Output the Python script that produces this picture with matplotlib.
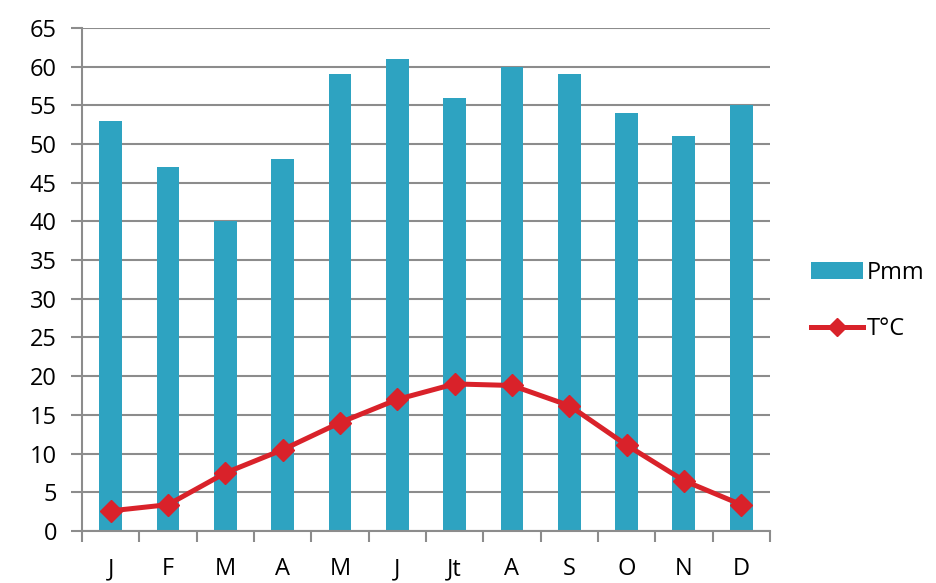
import numpy as np
import matplotlib.pyplot as plt
from matplotlib.patches import Patch
from matplotlib.lines import Line2D

months = ['J', 'F', 'M', 'A', 'M', 'J', 'Jt', 'A', 'S', 'O', 'N', 'D']
precip_mm = [53, 47, 40, 48, 59, 61, 56, 60, 59, 54, 51, 55]
temp_c = [2.6, 3.4, 7.5, 10.5, 14.0, 17.0, 19.0, 18.8, 16.2, 11.1, 6.5, 3.4]

bar_color = '#2ea3c1'
line_color = '#d9222a'
grid_color = '#8c8c8c'

plt.rcParams['font.family'] = ['Open Sans', 'DejaVu Sans']

fig = plt.figure(figsize=(9.36, 5.83), dpi=100)
ax = fig.add_axes([0.0876, 0.0892, 0.735, 0.863])

x = np.arange(len(months))
ax.bar(x, precip_mm, width=0.4, color=bar_color, zorder=2)
ax.plot(x, temp_c, color=line_color, lw=3.6, marker='D', markersize=11,
        zorder=3, solid_joinstyle='round')

ax.set_xlim(-0.5, len(months) - 0.5)
ax.set_ylim(0, 65)
ax.set_yticks(np.arange(0, 66, 5))
ax.yaxis.grid(True, color=grid_color, lw=1.5, zorder=1)
ax.set_axisbelow(True)

ax.set_xticks(x)
ax.set_xticklabels(months)
ax.set_xticks(np.arange(-0.5, len(months)), minor=True)
ax.tick_params(axis='x', which='major', length=0, pad=19, labelsize=17)
ax.tick_params(axis='x', which='minor', length=8, width=1.5, color=grid_color,
               direction='out')
ax.tick_params(axis='y', length=8, width=1.5, color=grid_color, pad=10,
               labelsize=17)

for side in ['top', 'right']:
    ax.spines[side].set_visible(False)
for side in ['left', 'bottom']:
    ax.spines[side].set_color(grid_color)
    ax.spines[side].set_linewidth(1.5)

handles = [
    Patch(facecolor=bar_color, edgecolor='none', label='Pmm'),
    Line2D([0], [0], color=line_color, lw=3.6, marker='D', markersize=9,
           label='T°C'),
]
fig.legend(handles=handles, loc='center left', bbox_to_anchor=(0.866, 0.484),
           frameon=False, fontsize=17, handlelength=2.2, handletextpad=0.2,
           labelspacing=1.35, borderpad=0, borderaxespad=0)

fig.savefig('out.png', dpi=100)
